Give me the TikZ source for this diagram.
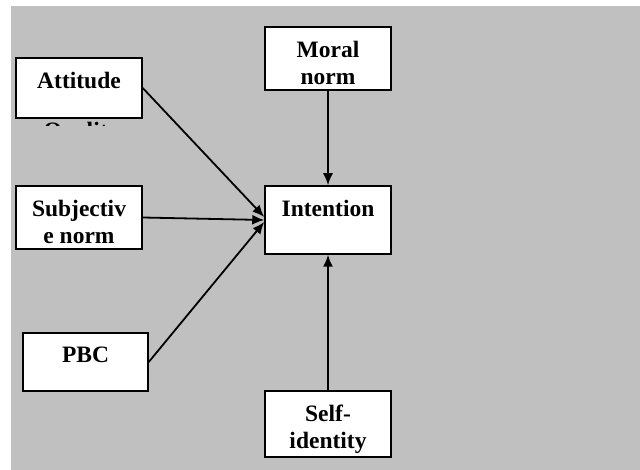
\documentclass[tikz,border=0pt]{standalone}
\usepackage{fontspec}
\setmainfont{Liberation Serif}
\usetikzlibrary{arrows.meta}
\definecolor{bggray}{RGB}{192,192,192}
\begin{document}
\begin{tikzpicture}[x=1pt,y=-1pt,
  box/.style={draw=black, line width=1.5pt, fill=white, inner sep=0pt},
  txt/.style={font=\fontsize{23.5}{26.5}\selectfont\bfseries, align=center, anchor=north, inner sep=0pt},
  arr/.style={draw=black, line width=1.8pt, -{Latex[length=12pt,width=10pt]}}]
\useasboundingbox (0,0) rectangle (640,470);
\fill[bggray] (11,6) rectangle (640,470);

% boxes
\node[box, minimum width=126pt, minimum height=60pt] (att) at (79,88) {};
\node[box, minimum width=126pt, minimum height=63pt] (mor) at (328,58.5) {};
\node[box, minimum width=126pt, minimum height=63pt] (sub) at (79,217.5) {};
\node[box, minimum width=126pt, minimum height=68pt] (int) at (328,220) {};
\node[box, minimum width=125pt, minimum height=58pt] (pbc) at (85.5,362) {};
\node[box, minimum width=126pt, minimum height=66pt] (sel) at (328,424) {};

% texts
\node[txt] (attT) at (79,72) {\rule{0pt}{15pt}Attitude};
\node[txt] (morT) at (328,41) {\rule{0pt}{15pt}Moral\\norm};
\node[txt] (subT) at (79,200) {\rule{0pt}{15pt}Subjectiv\\e norm};
\node[txt] (intT) at (328,200) {\rule{0pt}{15pt}Intention};
\node[txt] (pbcT) at (85.5,347) {\rule{0pt}{15pt}PBC};
\node[txt] (selT) at (328,405) {\rule{0pt}{15pt}Self-\\identity};

% clipped overflow text
\begin{scope}
  \clip (16,119) rectangle (142,126);
  \node[txt] (qual) at (81.5,122.4) {\rule{0pt}{15pt}Quality};
\end{scope}

% connectors
\draw[arr] (att.east) -- ([yshift=3pt]int.west);
\draw[arr] (sub.east) -- ([yshift=0pt]int.west);
\draw[arr] (pbc.east) -- ([yshift=-2pt]int.west);
\draw[arr] (mor.south) -- (int.north);
\draw[arr] (sel.north) -- (int.south);
\end{tikzpicture}
\end{document}
